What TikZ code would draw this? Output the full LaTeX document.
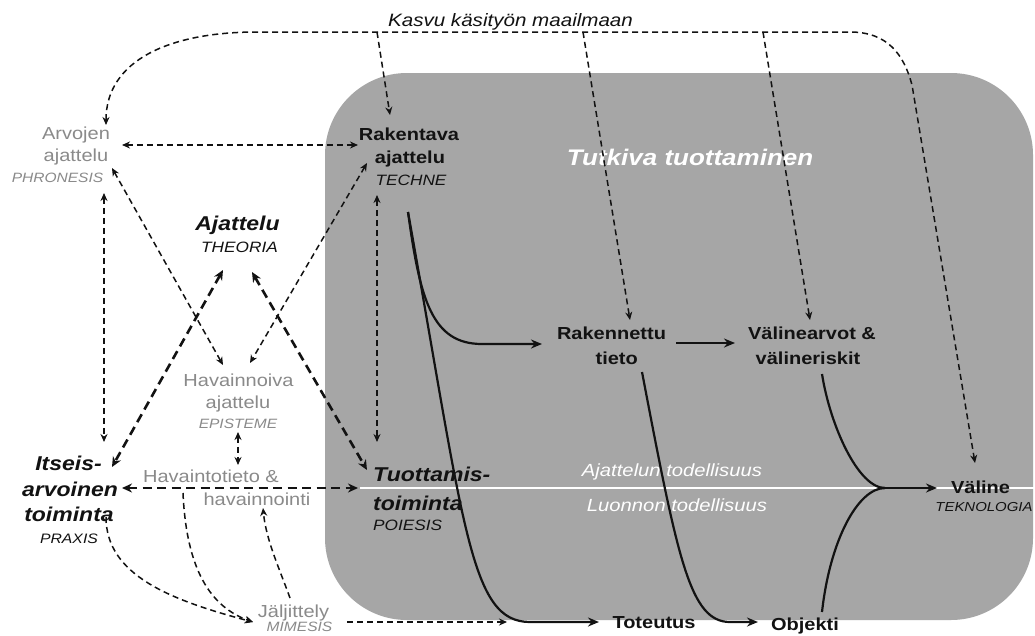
\documentclass[tikz,border=0pt]{standalone}
\usepackage{fontspec}
\setmainfont{Liberation Sans}[FakeStretch=1.15]
\usetikzlibrary{arrows.meta}
\definecolor{panel}{RGB}{166,166,166}
\definecolor{soft}{RGB}{138,138,138}
\definecolor{ink}{RGB}{18,18,18}
\newcommand\fsz[1]{\fontsize{#1}{#1}\selectfont}
\tikzset{
  lbl/.style={inner sep=0pt, anchor=base},
  reg/.style={lbl, text=soft, font=\fsz{17.4}},
  regcap/.style={lbl, text=soft, font=\fsz{13.5}\itshape},
  bld/.style={lbl, text=ink, font=\fsz{17.4}\bfseries},
  bit/.style={lbl, text=ink, font=\fsz{20}\bfseries\itshape},
  latin/.style={lbl, text=ink, font=\fsz{15}\itshape},
  wht/.style={lbl, text=white, font=\fsz{17.6}\itshape},
  dthin/.style={draw=ink, line width=1.5pt, dash pattern=on 6pt off 4pt,
    >={Stealth[length=8pt,width=7pt]}},
  dthick/.style={draw=ink, line width=2.6pt, dash pattern=on 9pt off 5.5pt,
    >={Stealth[length=10pt,width=9pt]}},
  flow/.style={draw=ink, line width=2.2pt, >={Stealth[length=11pt,width=9pt]}},
}
\begin{document}
\begin{tikzpicture}[x=1pt,y=-1pt]
\useasboundingbox (0,0) rectangle (1035,635);
\fill[white] (0,0) rectangle (1035,635);

% production panel and the boundary between the two realities
\fill[panel, rounded corners=82pt] (325,73) rectangle (1033,620);
\draw[white, line width=2.2pt] (360,488) -- (1035,488);

% labels
\node[lbl, text=ink, font=\fsz{17.9}\itshape] (kasvu) at (510.5,26.5) {Kasvu käsityön maailmaan};
\node[lbl, text=white, font=\fsz{22.6}\bfseries\itshape] (tutk) at (690,165) {Tutkiva tuottaminen};

\node[reg] (arv1) at (76,139.3) {Arvojen};
\node[reg] (arv2) at (76,161.7) {ajattelu};
\node[regcap] (arv3) at (57.5,182.7) {PHRONESIS};

\node[bld] (rak1) at (409,140.7) {Rakentava};
\node[bld] (rak2) at (410,163.3) {ajattelu};
\node[latin] (rak3) at (411,185) {TECHNE};

\node[bit] (aja1) at (237.5,230) {Ajattelu};
\node[latin] (aja2) at (239.5,252) {THEORIA};

\node[reg] (hav1) at (238.5,386.7) {Havainnoiva};
\node[reg] (hav2) at (238,408) {ajattelu};
\node[regcap] (hav3) at (238,428) {EPISTEME};

\node[reg] (ht1) at (211,482.7) {Havaintotieto \&};
\node[reg] (ht2) at (257,505) {havainnointi};

\node[bit] (its1) at (68.5,470) {Itseis-};
\node[bit] (its2) at (70,496.7) {arvoinen};
\node[bit] (its3) at (69,521.7) {toiminta};
\node[latin, font=\fsz{13.7}\itshape] (its4) at (69,543.3) {PRAXIS};

\node[reg] (jal1) at (293.5,617.5) {Jäljittely};
\node[regcap] (jal2) at (299.5,631) {MIMESIS};

\node[bit, anchor=base west] (tuo1) at (373,481.7) {Tuottamis-};
\node[bit, anchor=base west] (tuo2) at (373,510) {toiminta};
\node[latin, anchor=base west] (tuo3) at (373,530) {POIESIS};

\node[bld] (rkt1) at (611.5,339) {Rakennettu};
\node[bld] (rkt2) at (616.7,364.5) {tieto};
\node[bld] (val1) at (812,339) {Välinearvot \&};
\node[bld] (val2) at (808,364.5) {välineriskit};
\node[bld] (vl1) at (980.5,493.3) {Väline};
\node[latin, font=\fsz{13}\itshape] (vl2) at (984,511.7) {TEKNOLOGIA};
\node[bld] (tot) at (654,628) {Toteutus};
\node[bld] (obj) at (805,630) {Objekti};

\node[wht] (ajt) at (672,476.7) {Ajattelun todellisuus};
\node[wht] (luo) at (677,511) {Luonnon todellisuus};

% connector end points
\coordinate (arvTop) at (106,125);
\coordinate (arvRight) at (122,145);
\coordinate (arvBot) at (104,193);
\coordinate (arvDiag) at (112,168);
\coordinate (rakLeft) at (358,145);
\coordinate (rakTop) at (390,115);
\coordinate (rakDiag) at (367,163);
\coordinate (rakBot) at (377,195);
\coordinate (rakOut) at (408,212);
\coordinate (ajaL) at (223,270);
\coordinate (ajaR) at (252,272);
\coordinate (havL) at (223,365);
\coordinate (havR) at (250,363);
\coordinate (havBot) at (238,432);
\coordinate (htTop) at (238,465);
\coordinate (htOut) at (183,493);
\coordinate (htIn) at (263,508);
\coordinate (itsTop) at (104,442);
\coordinate (itsDiag) at (112,467);
\coordinate (itsRight) at (122,488);
\coordinate (itsOut) at (106,517);
\coordinate (tuoTop) at (377,442);
\coordinate (tuoDiag) at (367,470);
\coordinate (tuoLeft) at (358,488);
\coordinate (jalIn) at (253,622);
\coordinate (jalOut) at (290,598);
\coordinate (jalRight) at (347,622);
\coordinate (totIn) at (507,622);
\coordinate (totTip) at (599,622);
\coordinate (rktTop) at (630,320);
\coordinate (rktIn) at (542,344);
\coordinate (rktRight) at (676,343);
\coordinate (rktOut) at (642,372);
\coordinate (valTop) at (810,320);
\coordinate (valIn) at (735,343);
\coordinate (valOut) at (822,374);
\coordinate (objIn) at (758,622);
\coordinate (objOut) at (822,612);
\coordinate (merge) at (885,488);
\coordinate (vlIn) at (937,488);
\coordinate (vlTop) at (975,463);
\coordinate (drop1) at (377,32);
\coordinate (drop2) at (583,32);
\coordinate (drop3) at (763,32);

% growth into the craft world
\draw[dthin, <->] (arvTop) .. controls (106,60) and (170,32) .. (257,32) -- (850,32)
  .. controls (888,32) and (904,55) .. (912,85) -- (vlTop);
\draw[dthin, ->] (drop1) -- (rakTop);
\draw[dthin, ->] (drop2) -- (rktTop);
\draw[dthin, ->] (drop3) -- (valTop);

% relations between the ways of thinking and acting
\draw[dthin, <->] (arvRight) -- (rakLeft);
\draw[dthin, <->] (arvBot) -- (itsTop);
\draw[dthin, <->] (arvDiag) -- (havL);
\draw[dthin, <->] (rakDiag) -- (havR);
\draw[dthin, <->] (rakBot) -- (tuoTop);
\draw[dthin, <->] (havBot) -- (htTop);
\draw[dthick, <->] (ajaL) -- (itsDiag);
\draw[dthick, <->] (ajaR) -- (tuoDiag);
\draw[dthick, <->] (itsRight) -- (tuoLeft);

% imitation
\draw[dthin, ->] (itsOut) .. controls (106,575) and (170,600) .. (jalIn);
\draw[dthin, ->] (htOut) .. controls (186,560) and (205,605) .. (jalIn);
\draw[dthin, ->] (jalOut) .. controls (280,570) and (266,540) .. (htIn);
\draw[dthin, ->] (jalRight) -- (totIn);

% production flow
\draw[flow, ->] (rakOut) .. controls (420,300) and (432,344) .. (482,344) -- (rktIn);
\draw[flow, ->] (rakOut) .. controls (465,530) and (470,622) .. (530,622) -- (totTip);
\draw[flow, ->] (rktRight) -- (valIn);
\draw[flow, ->] (rktOut) .. controls (678,560) and (690,622) .. (730,622) -- (objIn);
\draw[flow] (valOut) .. controls (830,425) and (858,488) .. (merge);
\draw[flow] (objOut) .. controls (830,540) and (858,488) .. (merge);
\draw[flow, ->] (merge) -- (vlIn);
\end{tikzpicture}
\end{document}
